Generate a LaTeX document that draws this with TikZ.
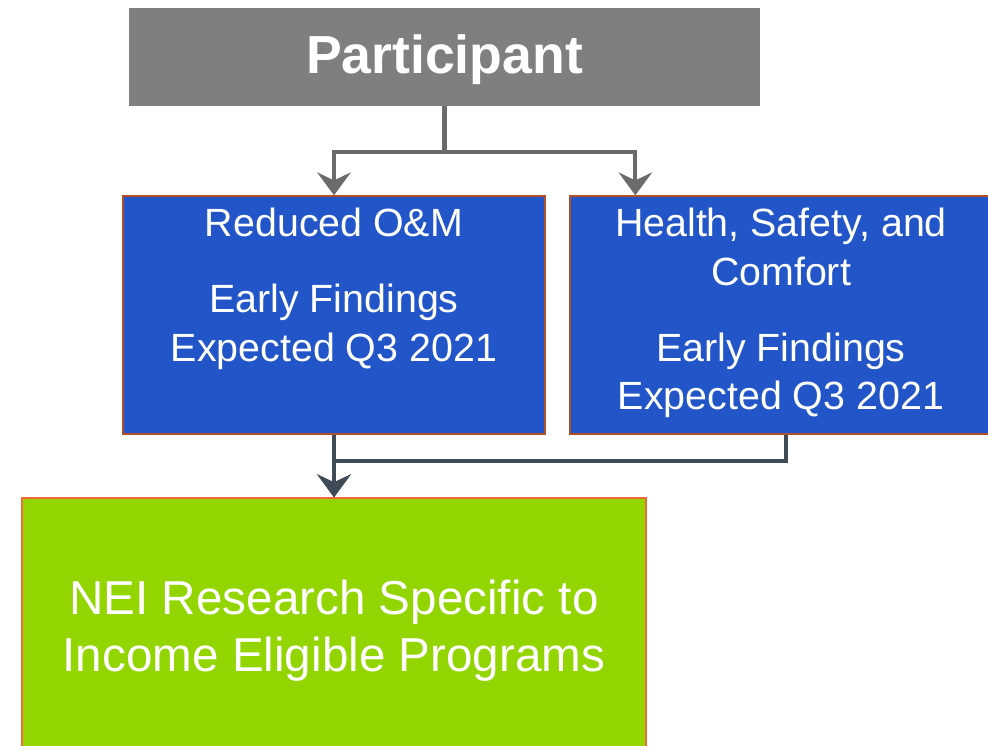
\documentclass[tikz,border=0pt]{standalone}
\usepackage{fontspec}
\setmainfont{Liberation Sans}
\usepackage{xcolor}
\usepackage{tikz}
\usetikzlibrary{arrows.meta}

\definecolor{partgray}{HTML}{7F7F7F}
\definecolor{boxblue}{HTML}{2155C8}
\definecolor{blueedge}{HTML}{B0502A}
\definecolor{neigreen}{HTML}{92D500}
\definecolor{greenedge}{HTML}{F26A3C}
\definecolor{toplink}{HTML}{6B6B6B}
\definecolor{botlink}{HTML}{3F4B57}

\begin{document}
\begin{tikzpicture}[x=0.02cm, y=-0.02cm,
    partbox/.style={fill=partgray, draw=none, minimum width=12.62cm, minimum height=1.96cm,
        text=white, font=\fontsize{30.5}{36}\selectfont\bfseries},
    findbox/.style={fill=boxblue, draw=blueedge, line width=0.8pt, inner sep=0pt, text=white,
        font=\fontsize{22.4}{27.8}\selectfont},
    neibox/.style={fill=neigreen, draw=greenedge, line width=0.8pt, minimum width=12.48cm,
        minimum height=5.32cm, text=white, align=center, font=\fontsize{27.1}{32.3}\selectfont},
    toplink/.style={draw=toplink, line width=2.3pt, -{Stealth[length=13pt, width=19pt, inset=4.5pt]}},
    botlink/.style={draw=botlink, line width=2.3pt, -{Stealth[length=13pt, width=19pt, inset=4.5pt]}}]

    \clip (0, 0) rectangle (988, 746);

    \node[partbox] (part) at (444.5, 57) {\raisebox{-0.06cm}[\height][\depth]{Participant}};
    \node[findbox] (red) at (334, 315) {\parbox[c][4.76cm][t]{8.44cm}{\centering\vspace*{0.24cm}%
        Reduced O\&M\\[15.3pt] Early Findings\\ Expected Q3 2021}};
    \node[findbox] (hsc) at (781, 315) {\parbox[c][4.76cm][t]{8.44cm}{\centering\vspace*{0.24cm}%
        Health, Safety, and\\ Comfort\\[15.3pt] Early Findings\\ Expected Q3 2021}};
    \node[neibox] (nei) at (334, 631) {NEI Research Specific to\\ Income Eligible Programs};

    % participant to both findings
    \draw[toplink] (part.south) -- ++(0, 46) -| (red.north);
    \draw[toplink] (part.south) -- ++(0, 46) -| ([xshift=1.32cm]hsc.north west);

    % findings into NEI research
    \draw[botlink] (red.south) -- (nei.north);
    \draw[botlink] ([xshift=0.1cm]hsc.south) -- ++(0, 26) -| (nei.north);

\end{tikzpicture}
\end{document}
